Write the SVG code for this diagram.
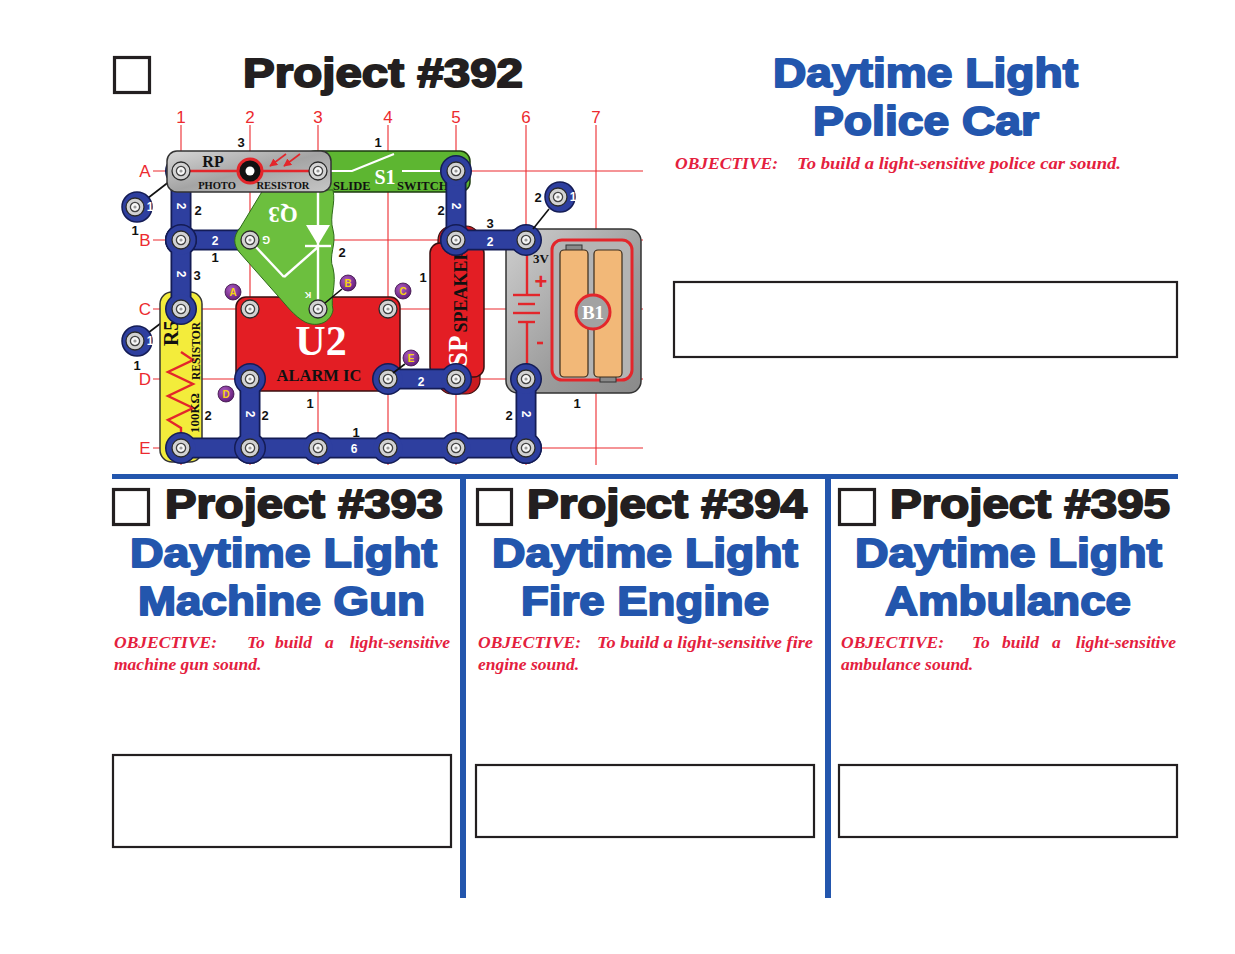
<svg xmlns="http://www.w3.org/2000/svg" xmlns:xlink="http://www.w3.org/1999/xlink" width="1235" height="954" viewBox="0 0 1235 954">
<defs>
<style>
.ttl{font-family:"Liberation Sans",Arial,sans-serif;font-weight:bold;font-size:40px;stroke-width:1.9px;stroke-linejoin:round}
.blk{fill:#231f20;stroke:#231f20}
.blu{fill:#2356ad;stroke:#2356ad}
.obj{font-family:"Liberation Serif","Times New Roman",serif;font-style:italic;font-weight:bold;font-size:17.5px;fill:#e4203d}
.box{fill:none;stroke:#231f20;stroke-width:2.2}
.chk{fill:none;stroke:#231f20;stroke-width:3.2}
.grid line{stroke:#ec2a2f;stroke-width:1.1}
.glbl{font-family:"Liberation Sans",Arial,sans-serif;font-size:17px;fill:#ec2a2f;text-anchor:middle}
.lbl{font-family:"Liberation Sans",Arial,sans-serif;font-weight:bold;font-size:13px;fill:#111;text-anchor:middle}
.wl{font-family:"Liberation Sans",Arial,sans-serif;font-weight:bold;font-size:12px;fill:#fff;text-anchor:middle}
.wo{stroke:#141c55;stroke-width:21}
.eo{fill:#141c55}
.wf{stroke:#2e3f9f;stroke-width:17.5}
.ef{fill:#2e3f9f}
.ser{font-family:"Liberation Serif","Times New Roman",serif;font-weight:bold}
.tp{fill:url(#purp);stroke:#3a1045;stroke-width:0.8}
.tpl{font-family:"Liberation Sans",Arial,sans-serif;font-weight:bold;font-size:10px;fill:#f6d40f;text-anchor:middle}
.thin{stroke:#111;stroke-width:1.6}
</style>
<linearGradient id="gray" x1="0" y1="0" x2="1" y2="1">
<stop offset="0" stop-color="#d6d6d6"/><stop offset="0.5" stop-color="#a4a4a4"/><stop offset="1" stop-color="#c6c6c6"/>
</linearGradient>
<linearGradient id="bgray" x1="0" y1="0" x2="1" y2="1">
<stop offset="0" stop-color="#cfcfcf"/><stop offset="0.6" stop-color="#9c9c9c"/><stop offset="1" stop-color="#8a8a8a"/>
</linearGradient>
<radialGradient id="purp" cx="0.4" cy="0.35" r="0.7">
<stop offset="0" stop-color="#b05fc4"/><stop offset="1" stop-color="#5e1a74"/>
</radialGradient>
<marker id="arr" viewBox="0 0 10 10" refX="9" refY="5" markerWidth="5" markerHeight="5" orient="auto">
<path d="M0,0 L10,5 L0,10 Z" fill="#e3262b"/>
</marker>
<g id="snap">
<circle r="9" fill="#d2d2d2" stroke="#2b2b2b" stroke-width="1.3"/>
<circle r="4.6" fill="#f7f7f7" stroke="#444" stroke-width="1.3"/>
<circle r="1.6" fill="#9a9a9a"/>
</g>
</defs>

<rect width="1235" height="954" fill="#ffffff"/>

<g id="frame">
<rect x="112" y="474" width="1066" height="5" fill="#2356ad"/>
<rect x="460" y="474" width="6" height="424" fill="#2356ad"/>
<rect x="825" y="474" width="6" height="424" fill="#2356ad"/>
</g>

<g id="p392">
<rect class="chk" x="114.5" y="57.5" width="35" height="35"/>
<text class="ttl blk" x="243" y="87" textLength="280" lengthAdjust="spacingAndGlyphs">Project #392</text>
<text class="ttl blu" x="773" y="87" textLength="305" lengthAdjust="spacingAndGlyphs">Daytime Light</text>
<text class="ttl blu" x="813" y="135" textLength="226" lengthAdjust="spacingAndGlyphs">Police Car</text>
<text class="obj" x="675" y="169">OBJECTIVE:</text>
<text class="obj" x="797" y="169" textLength="324" lengthAdjust="spacingAndGlyphs">To build a light-sensitive police car sound.</text>
<rect class="box" x="674" y="282" width="503" height="75"/>
</g>

<g id="p393">
<rect class="chk" x="113.5" y="489.5" width="35" height="35"/>
<text class="ttl blk" x="165" y="518" textLength="278" lengthAdjust="spacingAndGlyphs">Project #393</text>
<text class="ttl blu" x="130" y="567" textLength="307" lengthAdjust="spacingAndGlyphs">Daytime Light</text>
<text class="ttl blu" x="138" y="615" textLength="287" lengthAdjust="spacingAndGlyphs">Machine Gun</text>
<text class="obj" y="648"><tspan x="114">OBJECTIVE:</tspan><tspan x="247">To</tspan><tspan x="275">build</tspan><tspan x="325">a</tspan></text>
<text class="obj" x="450" y="648" text-anchor="end">light-sensitive</text>
<text class="obj" x="114" y="670">machine gun sound.</text>
<rect class="box" x="113" y="755" width="338" height="92"/>
</g>

<g id="p394">
<rect class="chk" x="477.5" y="489.5" width="34" height="35"/>
<text class="ttl blk" x="527" y="518" textLength="280" lengthAdjust="spacingAndGlyphs">Project #394</text>
<text class="ttl blu" x="492" y="567" textLength="306" lengthAdjust="spacingAndGlyphs">Daytime Light</text>
<text class="ttl blu" x="521" y="615" textLength="248" lengthAdjust="spacingAndGlyphs">Fire Engine</text>
<text class="obj" x="478" y="648">OBJECTIVE:</text>
<text class="obj" x="597" y="648" textLength="216" lengthAdjust="spacingAndGlyphs">To build a light-sensitive fire</text>
<text class="obj" x="478" y="670">engine sound.</text>
<rect class="box" x="476" y="765" width="338" height="72"/>
</g>

<g id="p395">
<rect class="chk" x="839.5" y="489.5" width="35" height="35"/>
<text class="ttl blk" x="890" y="518" textLength="280" lengthAdjust="spacingAndGlyphs">Project #395</text>
<text class="ttl blu" x="855" y="567" textLength="307" lengthAdjust="spacingAndGlyphs">Daytime Light</text>
<text class="ttl blu" x="885" y="615" textLength="246" lengthAdjust="spacingAndGlyphs">Ambulance</text>
<text class="obj" y="648"><tspan x="841">OBJECTIVE:</tspan><tspan x="972">To</tspan><tspan x="1002">build</tspan><tspan x="1052">a</tspan></text>
<text class="obj" x="1176" y="648" text-anchor="end">light-sensitive</text>
<text class="obj" x="841" y="670">ambulance sound.</text>
<rect class="box" x="839" y="765" width="338" height="72"/>
</g>

<g id="grid" class="grid">
<line x1="181" y1="125" x2="181" y2="465"/>
<line x1="250" y1="125" x2="250" y2="465"/>
<line x1="318" y1="125" x2="318" y2="465"/>
<line x1="388" y1="125" x2="388" y2="465"/>
<line x1="456" y1="125" x2="456" y2="465"/>
<line x1="526" y1="125" x2="526" y2="465"/>
<line x1="596" y1="125" x2="596" y2="465"/>
<line x1="153" y1="171" x2="643" y2="171"/>
<line x1="153" y1="240" x2="643" y2="240"/>
<line x1="153" y1="309" x2="643" y2="309"/>
<line x1="153" y1="379" x2="643" y2="379"/>
<line x1="153" y1="448" x2="643" y2="448"/>
<text class="glbl" x="181" y="123">1</text>
<text class="glbl" x="250" y="123">2</text>
<text class="glbl" x="318" y="123">3</text>
<text class="glbl" x="388" y="123">4</text>
<text class="glbl" x="456" y="123">5</text>
<text class="glbl" x="526" y="123">6</text>
<text class="glbl" x="596" y="123">7</text>
<text class="glbl" x="145" y="177">A</text>
<text class="glbl" x="145" y="246">B</text>
<text class="glbl" x="145" y="315">C</text>
<text class="glbl" x="145" y="385">D</text>
<text class="glbl" x="145" y="454">E</text>
</g>

<g id="U2">
<rect x="236" y="297" width="164" height="94" rx="10" fill="#e31e24" stroke="#3a1010" stroke-width="1.5"/>
<use href="#snap" x="250" y="309"/>
<use href="#snap" x="388" y="309"/>
<use href="#snap" x="318" y="309"/>
<text class="ser" x="321" y="355" font-size="42" fill="#fff" text-anchor="middle">U2</text>
<text class="ser" x="319" y="381" font-size="16.5" fill="#111" text-anchor="middle">ALARM IC</text>
<text class="lbl" x="310" y="408">1</text>
</g>

<g id="SP">
<rect x="438" y="226" width="42" height="168" rx="14" fill="#c81b20" stroke="#3a1010" stroke-width="1.2"/>
<rect x="430" y="243" width="54" height="134" rx="10" fill="#e31e24" stroke="#3a1010" stroke-width="1.5"/>
<text class="ser" transform="translate(467,367) rotate(-90)" font-size="27" fill="#fff">SP<tspan font-size="18" fill="#111" dx="3">SPEAKER</tspan></text>
<text class="lbl" x="423" y="282">1</text>
</g>

<g id="B1">
<rect x="506" y="229" width="135" height="164" rx="12" fill="url(#bgray)" stroke="#333" stroke-width="1.5"/>
<rect x="552" y="240" width="80" height="140" rx="10" fill="#b4b4b4" stroke="#e3262b" stroke-width="3"/>
<rect x="566" y="245" width="16" height="8" fill="#8a8a8a" stroke="#333" stroke-width="1"/>
<rect x="600" y="375" width="16" height="7" fill="#8a8a8a" stroke="#333" stroke-width="1"/>
<rect x="560" y="250" width="28" height="127" rx="4" fill="#f2b878" stroke="#3a2a1a" stroke-width="1.2"/>
<rect x="594" y="250" width="28" height="127" rx="4" fill="#f2b878" stroke="#3a2a1a" stroke-width="1.2"/>
<circle cx="593" cy="312" r="17" fill="#a2a2a2" stroke="#e3262b" stroke-width="3"/>
<text class="ser" x="593" y="319" font-size="19" fill="#fff" text-anchor="middle">B1</text>
<text class="ser" x="541" y="263" font-size="13" fill="#111" text-anchor="middle">3V</text>
<text x="541" y="289" font-family="Liberation Sans,Arial,sans-serif" font-weight="bold" font-size="22" fill="#e3262b" text-anchor="middle">+</text>
<g stroke="#e3262b" stroke-width="2.4">
<line x1="527" y1="250" x2="527" y2="295"/>
<line x1="513" y1="295" x2="540" y2="295"/>
<line x1="518" y1="304" x2="535" y2="304"/>
<line x1="513" y1="313" x2="540" y2="313"/>
<line x1="518" y1="322" x2="535" y2="322"/>
<line x1="527" y1="322" x2="527" y2="370"/>
<line x1="537" y1="343" x2="543" y2="343" stroke-width="2.6"/>
</g>
<text class="lbl" x="577" y="408">1</text>
</g>

<g id="S1">
<rect x="305" y="151" width="165" height="41" rx="10" fill="#5db631" stroke="#1d3a10" stroke-width="1.5"/>
<g stroke="#fff" stroke-width="2.2" fill="none">
<polyline points="331,171 352,171 394,154"/>
<line x1="402" y1="171" x2="444" y2="171"/>
</g>
<text class="ser" x="333" y="190" font-size="12.5" fill="#111">SLIDE</text>
<text class="ser" x="385" y="184" font-size="20" fill="#fff" text-anchor="middle">S1</text>
<text class="ser" x="397" y="190" font-size="12.5" fill="#111">SWITCH</text>
<text class="lbl" x="378" y="147">1</text>
</g>

<g id="J1a">
<line class="thin" x1="148" y1="198" x2="170" y2="181"/>
<circle cx="137" cy="207" r="15" fill="#2e3f9f" stroke="#141c55" stroke-width="1.5"/>
<use href="#snap" x="135" y="207"/>
<text class="wl" x="150" y="211" font-size="11">1</text>
<text class="lbl" x="135" y="235">1</text>
</g>
<g id="J1b">
<line class="thin" x1="148" y1="333" x2="165" y2="320"/>
<circle cx="137" cy="341" r="15" fill="#2e3f9f" stroke="#141c55" stroke-width="1.5"/>
<use href="#snap" x="135" y="341"/>
<text class="wl" x="150" y="345" font-size="11">1</text>
<text class="lbl" x="137" y="370">1</text>
</g>

<g id="R5">
<rect x="160" y="292" width="42" height="170" rx="12" fill="#f3ec3b" stroke="#333" stroke-width="1.5"/>
<polyline points="181,440 181,428 168,420 193,408 168,396 193,384 168,372 193,360 181,352" fill="none" stroke="#e3262b" stroke-width="2.4"/>
<text class="ser" transform="translate(178,346) rotate(-90)" font-size="21" fill="#111">R5</text>
<text class="ser" transform="translate(200,380) rotate(-90)" font-size="11.5" fill="#111">RESISTOR</text>
<text class="ser" transform="translate(199,433) rotate(-90)" font-size="13" fill="#111">100KΩ</text>
<use href="#snap" x="181" y="448"/>
<text class="lbl" x="208" y="420">2</text>
</g>

<g id="connectors">
<g id="w9">
<line class="wo" x1="181" y1="448" x2="526" y2="448"/>
<circle class="eo" cx="181" cy="448" r="16"/><circle class="eo" cx="250" cy="448" r="16"/><circle class="eo" cx="318" cy="448" r="16"/><circle class="eo" cx="388" cy="448" r="16"/><circle class="eo" cx="456" cy="448" r="16"/><circle class="eo" cx="526" cy="448" r="16"/>
<line class="wf" x1="181" y1="448" x2="526" y2="448"/>
<circle class="ef" cx="181" cy="448" r="14.5"/><circle class="ef" cx="250" cy="448" r="14.5"/><circle class="ef" cx="318" cy="448" r="14.5"/><circle class="ef" cx="388" cy="448" r="14.5"/><circle class="ef" cx="456" cy="448" r="14.5"/><circle class="ef" cx="526" cy="448" r="14.5"/>
<use href="#snap" x="181" y="448"/><use href="#snap" x="250" y="448"/><use href="#snap" x="318" y="448"/><use href="#snap" x="388" y="448"/><use href="#snap" x="456" y="448"/><use href="#snap" x="526" y="448"/>
<text class="wl" x="354" y="453">6</text>
<text class="lbl" x="356" y="437">1</text>
</g>
<g id="w2">
<line class="wo" x1="181" y1="240" x2="250" y2="240"/>
<circle class="eo" cx="181" cy="240" r="16"/><circle class="eo" cx="250" cy="240" r="16"/>
<line class="wf" x1="181" y1="240" x2="250" y2="240"/>
<circle class="ef" cx="181" cy="240" r="14.5"/><circle class="ef" cx="250" cy="240" r="14.5"/>
<use href="#snap" x="181" y="240"/><use href="#snap" x="250" y="240"/>
<text class="wl" x="215" y="245">2</text>
<text class="lbl" x="215" y="262">1</text>
</g>
<g id="w1">
<line class="wo" x1="181" y1="171" x2="181" y2="240"/>
<circle class="eo" cx="181" cy="171" r="16"/><circle class="eo" cx="181" cy="240" r="16"/>
<line class="wf" x1="181" y1="171" x2="181" y2="240"/>
<circle class="ef" cx="181" cy="171" r="14.5"/><circle class="ef" cx="181" cy="240" r="14.5"/>
<use href="#snap" x="181" y="171"/><use href="#snap" x="181" y="240"/>
<text class="wl" transform="translate(181,206) rotate(90)" y="4">2</text>
<text class="lbl" x="198" y="215">2</text>
</g>
<g id="w8">
<line class="wo" x1="250" y1="379" x2="250" y2="448"/>
<circle class="eo" cx="250" cy="379" r="16"/><circle class="eo" cx="250" cy="448" r="16"/>
<line class="wf" x1="250" y1="379" x2="250" y2="448"/>
<circle class="ef" cx="250" cy="379" r="14.5"/><circle class="ef" cx="250" cy="448" r="14.5"/>
<use href="#snap" x="250" y="379"/><use href="#snap" x="250" y="448"/>
<text class="wl" transform="translate(250,414) rotate(90)" y="4">2</text>
<text class="lbl" x="265" y="420">2</text>
</g>
<g id="w6">
<line class="wo" x1="388" y1="379" x2="456" y2="379"/>
<circle class="eo" cx="388" cy="379" r="16"/><circle class="eo" cx="456" cy="379" r="16"/>
<line class="wf" x1="388" y1="379" x2="456" y2="379"/>
<circle class="ef" cx="388" cy="379" r="14.5"/><circle class="ef" cx="456" cy="379" r="14.5"/>
<use href="#snap" x="388" y="379"/><use href="#snap" x="456" y="379"/>
<text class="wl" x="421" y="386">2</text>
</g>
<g id="w4">
<line class="wo" x1="456" y1="171" x2="456" y2="240"/>
<circle class="eo" cx="456" cy="171" r="16"/><circle class="eo" cx="456" cy="240" r="16"/>
<line class="wf" x1="456" y1="171" x2="456" y2="240"/>
<circle class="ef" cx="456" cy="171" r="14.5"/><circle class="ef" cx="456" cy="240" r="14.5"/>
<use href="#snap" x="456" y="171"/><use href="#snap" x="456" y="240"/>
<text class="wl" transform="translate(456,206) rotate(90)" y="4">2</text>
<text class="lbl" x="441" y="215">2</text>
</g>
<g id="w7">
<line class="wo" x1="526" y1="379" x2="526" y2="448"/>
<circle class="eo" cx="526" cy="379" r="16"/><circle class="eo" cx="526" cy="448" r="16"/>
<line class="wf" x1="526" y1="379" x2="526" y2="448"/>
<circle class="ef" cx="526" cy="379" r="14.5"/><circle class="ef" cx="526" cy="448" r="14.5"/>
<use href="#snap" x="526" y="379"/><use href="#snap" x="526" y="448"/>
<text class="wl" transform="translate(526,414) rotate(90)" y="4">2</text>
<text class="lbl" x="509" y="420">2</text>
</g>
<g id="w3">
<line class="wo" x1="181" y1="240" x2="181" y2="309"/>
<circle class="eo" cx="181" cy="240" r="16"/><circle class="eo" cx="181" cy="309" r="16"/>
<line class="wf" x1="181" y1="240" x2="181" y2="309"/>
<circle class="ef" cx="181" cy="240" r="14.5"/><circle class="ef" cx="181" cy="309" r="14.5"/>
<use href="#snap" x="181" y="240"/><use href="#snap" x="181" y="309"/>
<text class="wl" transform="translate(181,274) rotate(90)" y="4">2</text>
<text class="lbl" x="197" y="280">3</text>
</g>
<g id="w5">
<line class="wo" x1="456" y1="240" x2="526" y2="240"/>
<circle class="eo" cx="456" cy="240" r="16"/><circle class="eo" cx="526" cy="240" r="16"/>
<line class="wf" x1="456" y1="240" x2="526" y2="240"/>
<circle class="ef" cx="456" cy="240" r="14.5"/><circle class="ef" cx="526" cy="240" r="14.5"/>
<use href="#snap" x="456" y="240"/><use href="#snap" x="526" y="240"/>
<text class="wl" x="490" y="246">2</text>
<text class="lbl" x="490" y="228">3</text>
</g>
</g>

<g id="J1c">
<line class="thin" x1="533" y1="229" x2="549" y2="209"/>
<circle cx="560" cy="197" r="15" fill="#2e3f9f" stroke="#141c55" stroke-width="1.5"/>
<use href="#snap" x="558" y="197"/>
<text class="wl" x="573" y="201" font-size="11">1</text>
<text class="lbl" x="538" y="202">2</text>
</g>

<g id="Q3">
<path d="M263,190 L333,190 C336,204 329,216 333,230 C337,244 328,256 333,268 C337,284 330,298 333,310 C331,322 318,328 305,322 C294,316 286,305 278,296 L240,253 C233,245 233,236 240,228 Z" fill="#6cbf3e" stroke="#2e6a1a" stroke-width="1"/>
<g stroke="#fff" stroke-width="2.4" fill="none">
<line x1="318" y1="192" x2="318" y2="300"/>
<line x1="255" y1="246" x2="284" y2="277"/>
<line x1="284" y1="277" x2="318" y2="247"/>
<line x1="305" y1="246" x2="331" y2="246"/>
</g>
<polygon points="306,225 330,225 318,245" fill="#fff"/>
<text class="ser" transform="rotate(180,283,215)" x="283" y="223" font-size="23" fill="#fff" text-anchor="middle">Q3</text>
<text transform="rotate(180,266,240)" x="266" y="244" font-family="Liberation Sans,Arial,sans-serif" font-weight="bold" font-size="10" fill="#fff" text-anchor="middle">G</text>
<text transform="rotate(180,308,296)" x="308" y="300" font-family="Liberation Sans,Arial,sans-serif" font-weight="bold" font-size="9" fill="#fff" text-anchor="middle">K</text>
<use href="#snap" x="250" y="240"/>
<use href="#snap" x="318" y="309"/>
<text class="lbl" x="342" y="257">2</text>
</g>

<g id="RP">
<rect x="167" y="151" width="164" height="41" rx="10" fill="url(#gray)" stroke="#333" stroke-width="1.5"/>
<line x1="181" y1="171" x2="318" y2="171" stroke="#e3262b" stroke-width="2.5"/>
<circle cx="250" cy="171" r="12" fill="#111" stroke="#e3262b" stroke-width="3"/>
<circle cx="250" cy="171" r="4.5" fill="#fff"/>
<line x1="286" y1="154" x2="270" y2="166" stroke="#e3262b" stroke-width="1.6" marker-end="url(#arr)"/>
<line x1="300" y1="154" x2="284" y2="166" stroke="#e3262b" stroke-width="1.6" marker-end="url(#arr)"/>
<use href="#snap" x="181" y="171"/>
<use href="#snap" x="318" y="171"/>
<text class="ser" x="213" y="167" font-size="16" fill="#111" text-anchor="middle">RP</text>
<text class="ser" x="217" y="189" font-size="10.5" fill="#111" text-anchor="middle">PHOTO</text>
<text class="ser" x="283" y="189" font-size="10.5" fill="#111" text-anchor="middle">RESISTOR</text>
<text class="lbl" x="241" y="147">3</text>
</g>

<g id="testpoints">
<line class="thin" x1="342" y1="289" x2="325" y2="303"/>
<line class="thin" x1="405" y1="364" x2="393" y2="373"/>
<circle class="tp" cx="233" cy="292" r="8"/><text class="tpl" x="233" y="296">A</text>
<circle class="tp" cx="348" cy="283" r="8"/><text class="tpl" x="348" y="287">B</text>
<circle class="tp" cx="403" cy="291" r="8"/><text class="tpl" x="403" y="295">C</text>
<circle class="tp" cx="226" cy="394" r="8"/><text class="tpl" x="226" y="398">D</text>
<circle class="tp" cx="411" cy="358" r="8"/><text class="tpl" x="411" y="362">E</text>
</g>
</svg>
